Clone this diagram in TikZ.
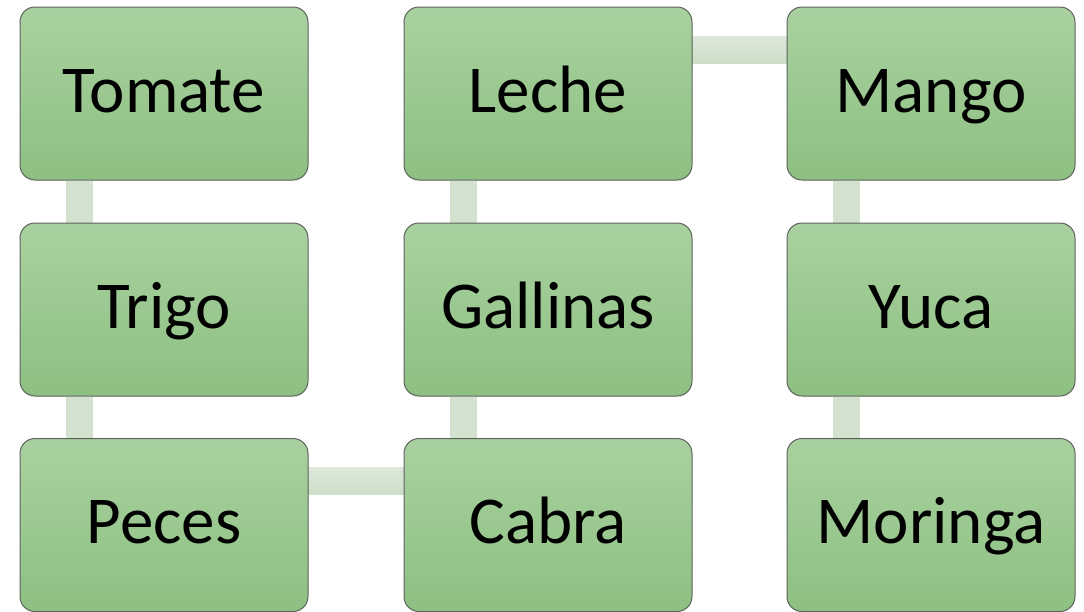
\documentclass[tikz,border=0pt]{standalone}
\usepackage{fontspec}
\setmainfont{Carlito}
\usetikzlibrary{calc,backgrounds}
\definecolor{boxtop}{HTML}{A9D1A0}
\definecolor{boxbot}{HTML}{8DC081}
\definecolor{boxline}{HTML}{5E625D}
\definecolor{conntop}{HTML}{DDE8DA}
\definecolor{connbot}{HTML}{CCDFC8}
\definecolor{connv}{HTML}{D3E1CF}
\tikzset{
  item/.style={rectangle, rounded corners=15pt, minimum width=288pt, minimum height=173pt,
    top color=boxtop, bottom color=boxbot, draw=boxline, line width=1pt,
    inner sep=0pt, text height=50pt, text depth=13pt,
    font=\fontsize{67}{72}\selectfont},
  hconn/.style={top color=conntop, bottom color=connbot, draw=none},
  vconn/.style={fill=connv, draw=none}
}
\begin{document}
\begin{tikzpicture}[x=1pt,y=-1pt]
\useasboundingbox (0,0) rectangle (1084,611);
\node[item] (tomate)   at (164,93.5)  {Tomate};
\node[item] (trigo)    at (164,309.5) {Trigo};
\node[item] (peces)    at (164,525)   {Peces};
\node[item] (leche)    at (548,93.5)  {Leche};
\node[item] (gallinas) at (548,309.5) {Gallinas};
\node[item] (cabra)    at (548,525)   {Cabra};
\node[item] (mango)    at (931,93.5)  {Mango};
\node[item] (yuca)     at (931,309.5) {Yuca};
\node[item] (moringa)  at (931,525)   {Moringa};
\begin{scope}[on background layer]
\fill[vconn] ($(tomate.south west)+(46,0)$) rectangle ($(trigo.north west)+(73,0)$);
\fill[vconn] ($(trigo.south west)+(46,0)$) rectangle ($(peces.north west)+(73,0)$);
\shade[hconn] ($(peces.north east)+(0,29)$) rectangle ($(cabra.north west)+(0,56)$);
\fill[vconn] ($(gallinas.south west)+(46,0)$) rectangle ($(cabra.north west)+(73,0)$);
\fill[vconn] ($(leche.south west)+(46,0)$) rectangle ($(gallinas.north west)+(73,0)$);
\shade[hconn] ($(leche.north east)+(0,30)$) rectangle ($(mango.north west)+(0,57)$);
\fill[vconn] ($(mango.south west)+(46,0)$) rectangle ($(yuca.north west)+(73,0)$);
\fill[vconn] ($(yuca.south west)+(46,0)$) rectangle ($(moringa.north west)+(73,0)$);
\end{scope}
\end{tikzpicture}
\end{document}
